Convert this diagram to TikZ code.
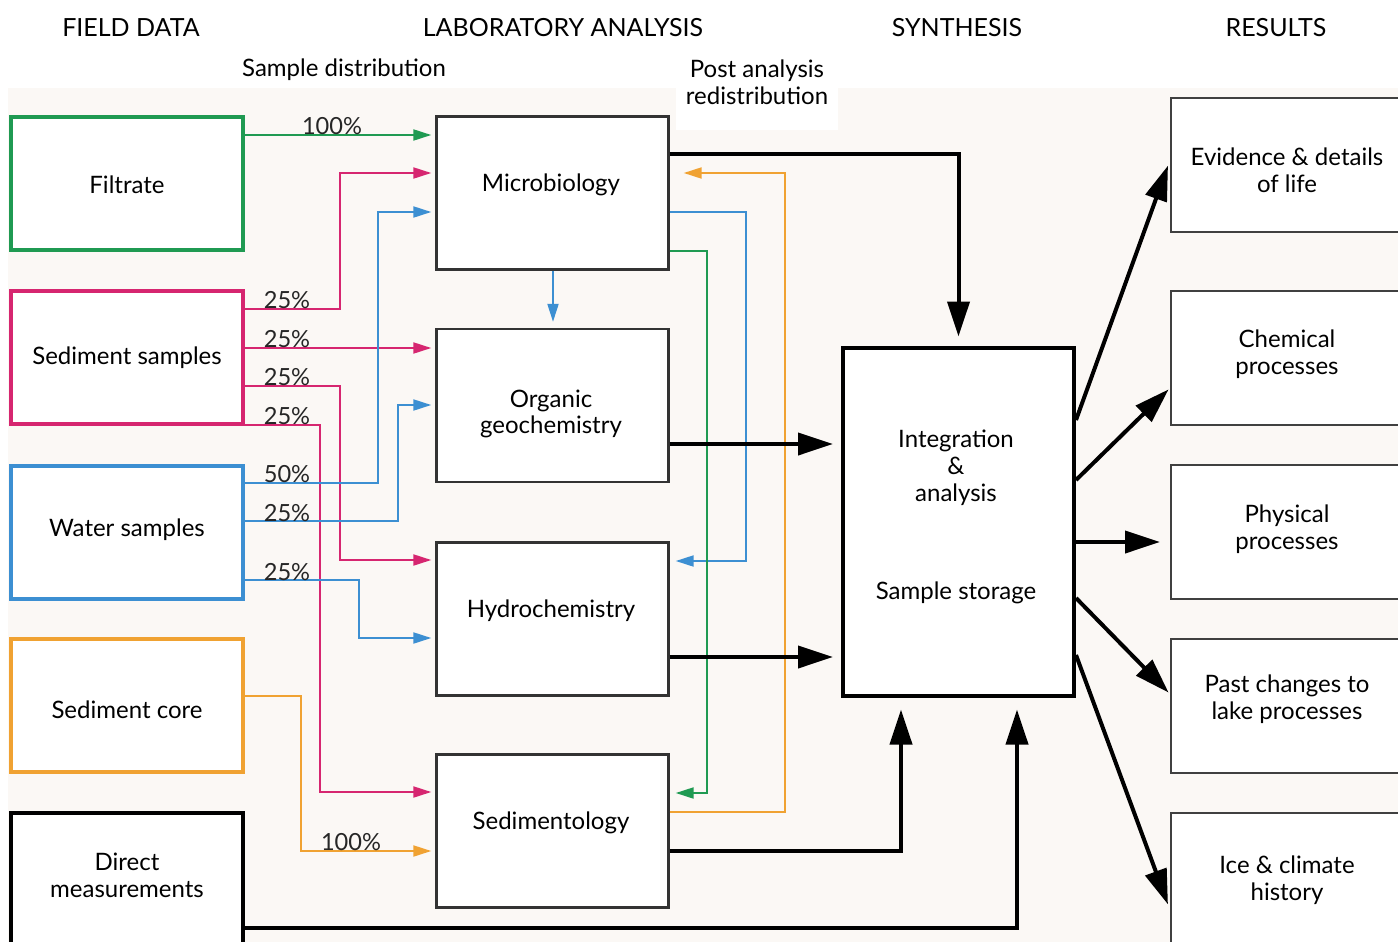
\documentclass[tikz,border=0pt]{standalone}
\usepackage{fontspec}
\setmainfont{Lato}
\usetikzlibrary{arrows.meta}
\definecolor{cgreen}{HTML}{1F9A52}
\definecolor{cmag}{HTML}{D62670}
\definecolor{cblue}{HTML}{3C8FD2}
\definecolor{corange}{HTML}{F0A232}
\definecolor{bgc}{HTML}{FBF8F5}
\tikzset{
  fbox/.style={draw, line width=2pt, fill=white, minimum width=116pt, minimum height=66.5pt, inner sep=0pt},
  labbox/.style={draw=black!80, line width=1.2pt, fill=white, minimum width=116pt, minimum height=76.5pt, inner sep=0pt},
  resbox/.style={draw=black!75, line width=1pt, fill=white, minimum width=116pt, minimum height=67pt, inner sep=0pt},
  intbox/.style={draw=black, line width=2pt, fill=white, minimum width=115.5pt, minimum height=174pt, inner sep=0pt},
  txt/.style={align=center, font=\fontsize{12}{13.4}\selectfont, inner sep=0pt},
  head/.style={font=\fontsize{12.5}{14}\selectfont, inner sep=0pt},
  pct/.style={font=\fontsize{11.8}{13}\selectfont, inner sep=0pt, text=black!85},
  carrow/.style={line width=1pt, -{Triangle[length=9pt,width=5.5pt]}},
  barrow/.style={line width=2pt, -{Triangle[length=17.5pt,width=11pt]}}
}
\begin{document}
\begin{tikzpicture}[x=0.5pt,y=-0.5pt]
\useasboundingbox (0,0) rectangle (1398,942);
\clip (0,0) rectangle (1398,942);
\fill[white] (0,0) rectangle (1398,942);
\fill[bgc] (8,88) rectangle (1398,942);
\fill[white] (676,58) rectangle (838,130);

% headings
\node[head] (h1) at (131,28) {FIELD DATA};
\node[head] (h2) at (563,28) {LABORATORY ANALYSIS};
\node[head] (h3) at (957,28) {SYNTHESIS};
\node[head] (h4) at (1276,28) {RESULTS};
\node[txt] (sd) at (344,70) {Sample distribution};
\node[txt] (pa) at (757,82) {Post analysis\\redistribution};

% field boxes
\node[fbox, draw=cgreen] (filt) at (127,183.5) {};
\node[fbox, draw=cmag] (sed) at (127,357.5) {};
\node[fbox, draw=cblue] (wat) at (127,532) {};
\node[fbox, draw=corange] (core) at (127,705.5) {};
\node[fbox, draw=black] (dir) at (127,879.5) {};
\node[txt] (filt-t) at (127,185) {Filtrate};
\node[txt] (sed-t) at (127,358) {Sediment samples};
\node[txt] (wat-t) at (127,530) {Water samples};
\node[txt] (core-t) at (127,710) {Sediment core};
\node[txt] (dir-t) at (127,875) {Direct\\measurements};

% lab boxes
\node[labbox] (micro) at (552.5,193) {};
\node[labbox] (org) at (552.5,405.5) {};
\node[labbox] (hyd) at (552.5,619) {};
\node[labbox] (sedi) at (552.5,831) {};
\node[txt] (micro-t) at (551,185) {Microbiology};
\node[txt] (org-t) at (551,414) {Organic\\geochemistry};
\node[txt] (hyd-t) at (551,611) {Hydrochemistry};
\node[txt] (sedi-t) at (551,823) {Sedimentology};

% integration
\node[intbox] (integ) at (958.5,521.5) {};
\node[txt] (integ-t) at (956,468) {Integration\\\&\\analysis};
\node[txt] (stor-t) at (956,593) {Sample storage};

% results
\node[resbox] (evid) at (1287,164.5) {};
\node[resbox] (chem) at (1287,357.5) {};
\node[resbox] (phys) at (1287,532) {};
\node[resbox] (past) at (1287,705.5) {};
\node[resbox] (ice) at (1287,879.5) {};
\node[txt] (evid-t) at (1287,170) {Evidence \& details\\of life};
\node[txt] (chem-t) at (1287,354) {Chemical\\processes};
\node[txt] (phys-t) at (1287,529) {Physical\\processes};
\node[txt] (past-t) at (1287,699) {Past changes to\\lake processes};
\node[txt] (ice-t) at (1287,880) {Ice \& climate\\history};

% sample distribution
\draw[carrow, cgreen, shorten >=2pt] (filt.east |- 0,135) -- (micro.west |- 0,135);
\draw[carrow, cmag, shorten >=2pt] (sed.east |- 0,309) -| (340,173) -- (micro.west |- 0,173);
\draw[carrow, cmag, shorten >=2pt] (sed.east |- 0,348) -- (org.west |- 0,348);
\draw[carrow, cmag, shorten >=2pt] (sed.east |- 0,386) -| (340,560) -- (hyd.west |- 0,560);
\draw[carrow, cmag, shorten >=2pt] (sed.east |- 0,425) -| (320,792) -- (sedi.west |- 0,792);
\draw[carrow, cblue, shorten >=2pt] (wat.east |- 0,483) -| (378,212) -- (micro.west |- 0,212);
\draw[carrow, cblue, shorten >=2pt] (wat.east |- 0,521) -| (398,405) -- (org.west |- 0,405);
\draw[carrow, cblue, shorten >=2pt] (wat.east |- 0,580) -| (359,638) -- (hyd.west |- 0,638);
\draw[carrow, corange, shorten >=2pt] (core.east |- 0,696) -| (301,851) -- (sedi.west |- 0,851);
\draw[carrow, cblue, shorten >=3pt] (micro.south -| 553,0) -- (org.north -| 553,0);

\node[pct] (p1) at (332,126) {100\%};
\node[pct] (p2) at (287,300) {25\%};
\node[pct] (p3) at (287,339) {25\%};
\node[pct] (p4) at (287,377) {25\%};
\node[pct] (p5) at (287,416) {25\%};
\node[pct] (p6) at (287,474) {50\%};
\node[pct] (p7) at (287,513) {25\%};
\node[pct] (p8) at (287,572) {25\%};
\node[pct] (p9) at (351,842) {100\%};

% post analysis redistribution
\draw[carrow, cblue, shorten >=3pt] (micro.east |- 0,212) -| (746,561) -- (hyd.east |- 0,561);
\draw[carrow, cgreen, shorten >=3pt] (micro.east |- 0,251) -| (707,793) -- (sedi.east |- 0,793);
\draw[carrow, corange, shorten >=7pt] (sedi.east |- 0,812) -| (785,173) -- (micro.east |- 0,173);

% to synthesis
\draw[barrow, shorten >=4.5pt] (micro.east |- 0,154) -| (integ.north);
\draw[barrow, shorten >=4pt] (org.east |- 0,444) -- (integ.west |- 0,444);
\draw[barrow, shorten >=4pt] (hyd.east |- 0,657) -- (integ.west |- 0,657);
\draw[barrow, shorten >=6pt] (sedi.east |- 0,851) -| (integ.south -| 901,0);
\draw[barrow, shorten >=6pt] (dir.east |- 0,928) -| (integ.south -| 1017,0);

% to results
\draw[barrow, shorten >=3pt] (integ.east |- 0,420) -- (evid.west |- 0,160);
\draw[barrow, shorten >=1pt] (integ.east |- 0,480) -- (chem.west |- 0,388);
\draw[barrow, shorten >=5pt] (integ.east |- 0,542) -- (phys.west |- 0,542);
\draw[barrow, shorten >=1pt] (integ.east |- 0,598) -- (past.west |- 0,694);
\draw[barrow, shorten >=3pt] (integ.east |- 0,655) -- (ice.west |- 0,910);
\end{tikzpicture}
\end{document}
